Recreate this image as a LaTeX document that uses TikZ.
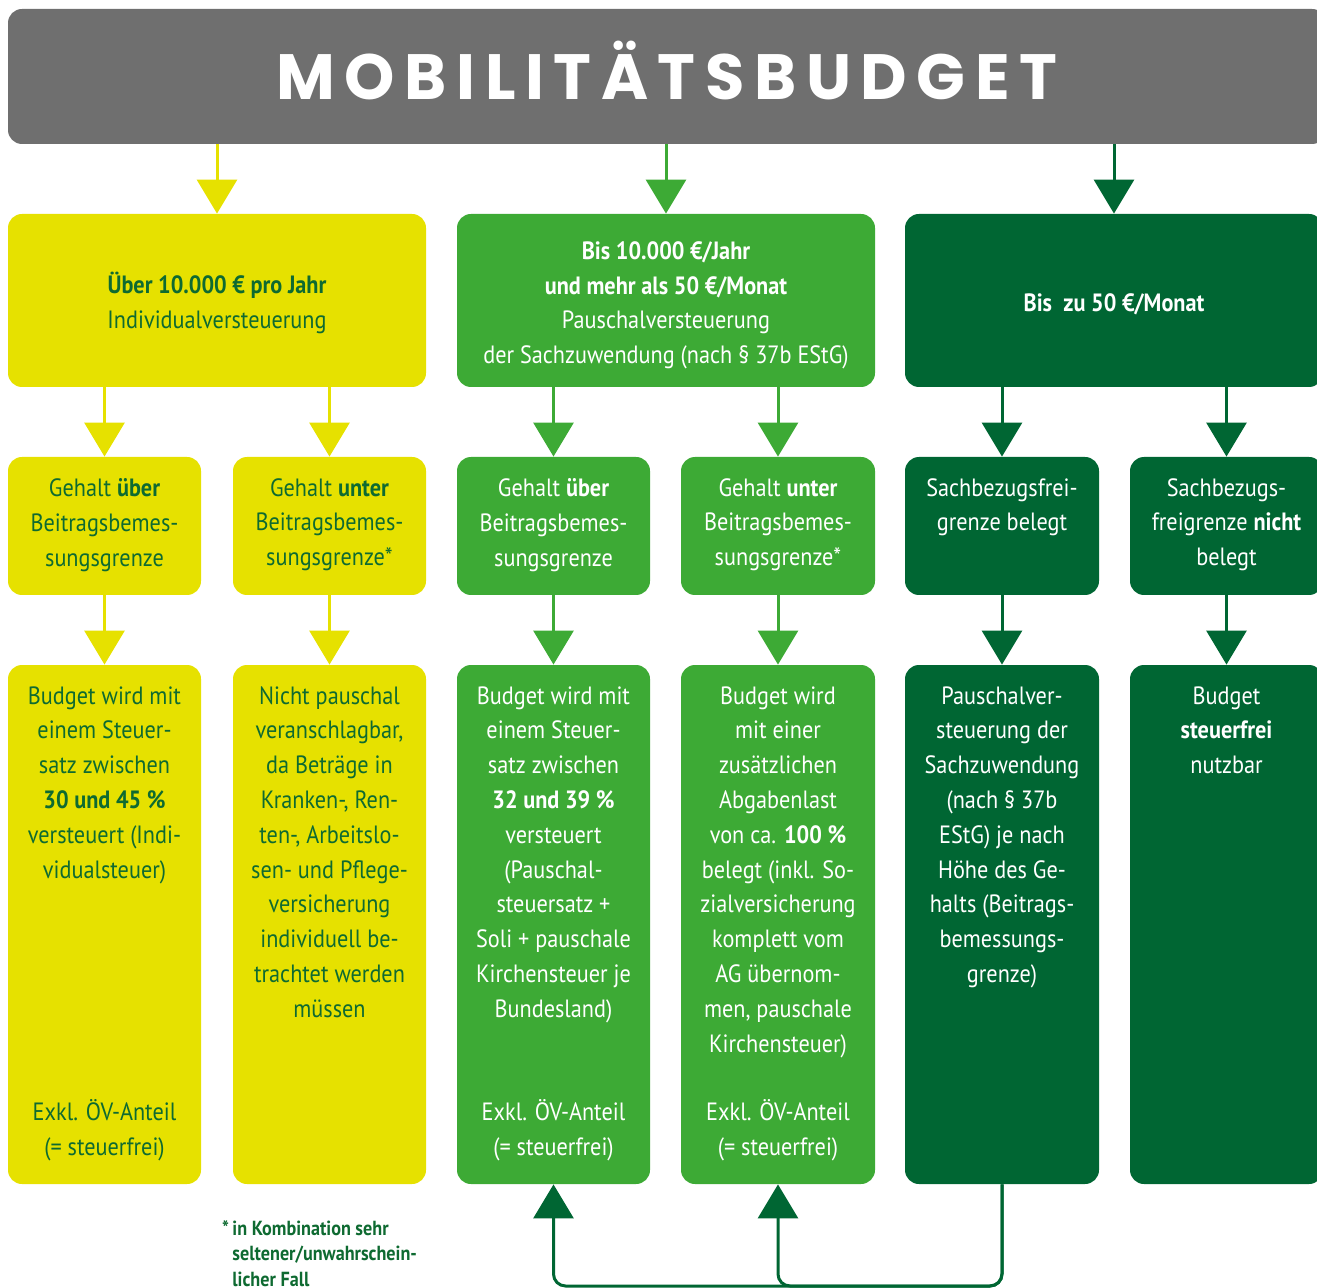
\documentclass[tikz,border=0pt]{standalone}
\usepackage{fontspec}
\setmainfont{PT Sans}[FakeStretch=0.89]
\newfontfamily\titlefont{Poppins}[LetterSpace=15]
\usetikzlibrary{arrows.meta}
\definecolor{cyellow}{HTML}{E6E100}
\definecolor{cmid}{HTML}{3DAA35}
\definecolor{cdark}{HTML}{006633}
\definecolor{cgray}{HTML}{6F6F6F}
\definecolor{ctext}{HTML}{0E6A31}
\newcommand\bx[6]{\node[#2, minimum width={(#5-#3)*0.5pt}, minimum height={(#6-#4)*0.5pt}] (#1) at ({(#3+#5)/2},{(#4+#6)/2}) {};}
\begin{document}
\begin{tikzpicture}[x=0.5pt,y=-0.5pt,
 box/.style={rounded corners=7pt, inner sep=0pt, draw=none},
 gbox/.style={box, fill=cgray},
 ybox/.style={box, fill=cyellow},
 mbox/.style={box, fill=cmid},
 dbox/.style={box, fill=cdark},
 txt/.style={anchor=north, inner sep=0pt, align=center, font=\fontsize{12.5}{17.4}\selectfont, execute at begin node=\rule{0pt}{12pt}},
 ytxt/.style={txt, text=ctext},
 wtxt/.style={txt, text=white},
 arr/.style={line width=1.5pt, -{Triangle[width=20pt,length=17pt]}},
 yarr/.style={arr, draw=cyellow, fill=cyellow},
 marr/.style={arr, draw=cmid, fill=cmid},
 darr/.style={arr, draw=cdark, fill=cdark},
]
\useasboundingbox (0,0) rectangle (1317,1288);
\clip (0,0) rectangle (1317,1288);
% header
\bx{H}{gbox}{8}{9}{1326}{144}
\node[anchor=base, inner sep=0pt, text=white, font=\titlefont\bfseries\fontsize{32}{36}\selectfont] (title) at (667,100) {MOBILITÄTSBUDGET};
% row 1
\bx{A}{ybox}{8}{214}{426}{387}
\bx{B}{mbox}{457}{214}{875}{387}
\bx{C}{dbox}{905}{214}{1323}{387}
% row 2
\bx{a2}{ybox}{8}{457}{201}{595}
\bx{b2}{ybox}{233}{457}{426}{595}
\bx{c2}{mbox}{457}{457}{650}{595}
\bx{d2}{mbox}{681}{457}{875}{595}
\bx{e2}{dbox}{905}{457}{1099}{595}
\bx{f2}{dbox}{1130}{457}{1323}{595}
% row 3
\bx{a3}{ybox}{8}{665}{201}{1184}
\bx{b3}{ybox}{233}{665}{426}{1184}
\bx{c3}{mbox}{457}{665}{650}{1184}
\bx{d3}{mbox}{681}{665}{875}{1184}
\bx{e3}{dbox}{905}{665}{1099}{1184}
\bx{f3}{dbox}{1130}{665}{1323}{1184}
% arrows header -> row 1
\draw[yarr] (A.north |- H.south) -- (A.north);
\draw[marr] (B.north |- H.south) -- (B.north);
\draw[darr] (C.north |- H.south) -- (C.north);
% row1 -> row2
\draw[yarr] (a2.north |- A.south) -- (a2.north);
\draw[yarr] (b2.north |- A.south) -- (b2.north);
\draw[marr] (c2.north |- B.south) -- (c2.north);
\draw[marr] (d2.north |- B.south) -- (d2.north);
\draw[darr] (e2.north |- C.south) -- (e2.north);
\draw[darr] (f2.north |- C.south) -- (f2.north);
% row2 -> row3
\draw[yarr] (a2.south) -- (a3.north);
\draw[yarr] (b2.south) -- (b3.north);
\draw[marr] (c2.south) -- (c3.north);
\draw[marr] (d2.south) -- (d3.north);
\draw[darr] (e2.south) -- (e3.north);
\draw[darr] (f2.south) -- (f3.north);
% bottom connectors
\coordinate (bot) at (0,1286);
\draw[darr, fill=none, rounded corners=6pt] (e3.south) -- (e3.south |- bot) -- (c3.south |- bot) -- (c3.south);
\draw[darr, fill=none, rounded corners=6pt] (e3.south) -- (e3.south |- bot) -- (d3.south |- bot) -- (d3.south);
% texts row 1
\node[ytxt] (tA) at (217,{296-24}) {\textbf{Über 10.000 € pro Jahr}\\Individualversteuerung};
\node[wtxt] (tB) at (666,{265-24}) {\textbf{Bis 10.000 €/Jahr}\\\textbf{und mehr als 50 €/Monat}\\Pauschalversteuerung\\der Sachzuwendung (nach § 37b EStG)};
\node[wtxt] (tC) at (1114,{311-24}) {\textbf{Bis\ \ zu 50 €/Monat}};
% texts row 2
\node[ytxt] (ta2) at (104.5,{502-24}) {Gehalt \textbf{über}\\Beitragsbemes-\\sungsgrenze};
\node[ytxt] (tb2) at (329.5,{502-24}) {Gehalt \textbf{unter}\\Beitragsbemes-\\sungsgrenze*};
\node[wtxt] (tc2) at (553.5,{502-24}) {Gehalt \textbf{über}\\Beitragsbemes-\\sungsgrenze};
\node[wtxt] (td2) at (778,{502-24}) {Gehalt \textbf{unter}\\Beitragsbemes-\\sungsgrenze*};
\node[wtxt] (te2) at (1002,{502-24}) {Sachbezugsfrei-\\grenze belegt};
\node[wtxt] (tf2) at (1226.5,{502-24}) {Sachbezugs-\\freigrenze \textbf{nicht}\\belegt};
% texts row 3
\node[ytxt] (ta3) at (104.5,{710-24}) {Budget wird mit\\einem Steuer-\\satz zwischen\\\textbf{30 und 45 \%}\\versteuert (Indi-\\vidualsteuer)};
\node[ytxt] (tb3) at (329.5,{710-24}) {Nicht pauschal\\veranschlagbar,\\da Beträge in\\Kranken-, Ren-\\ten-, Arbeitslo-\\sen- und Pflege-\\versicherung\\individuell be-\\trachtet werden\\müssen};
\node[wtxt] (tc3) at (553.5,{710-24}) {Budget wird mit\\einem Steuer-\\satz zwischen\\\textbf{32 und 39 \%}\\versteuert\\(Pauschal-\\steuersatz +\\Soli + pauschale\\Kirchensteuer je\\Bundesland)};
\node[wtxt] (td3) at (778,{710-24}) {Budget wird\\mit einer\\zusätzlichen\\Abgabenlast\\von ca. \textbf{100 \%}\\belegt (inkl. So-\\zialversicherung\\komplett vom\\AG übernom-\\men, pauschale\\Kirchensteuer)};
\node[wtxt] (te3) at (1002,{710-24}) {Pauschalver-\\steuerung der\\Sachzuwendung\\(nach § 37b\\EStG) je nach\\Höhe des Ge-\\halts (Beitrags-\\bemessungs-\\grenze)};
\node[wtxt] (tf3) at (1226.5,{710-24}) {Budget\\\textbf{steuerfrei}\\nutzbar};
% bottom texts
\node[ytxt] (xa3) at (104.5,{1123-24}) {Exkl. ÖV-Anteil\\(= steuerfrei)};
\node[wtxt] (xc3) at (553.5,{1123-24}) {Exkl. ÖV-Anteil\\(= steuerfrei)};
\node[wtxt] (xd3) at (778,{1123-24}) {Exkl. ÖV-Anteil\\(= steuerfrei)};
% footnote
\node[anchor=north west, inner sep=0pt, align=left, text=ctext, font=\bfseries\fontsize{10.2}{12.8}\selectfont, execute at begin node=\rule{0pt}{9pt}] (fn) at (232,{1238-18}) {\llap{*\,}in Kombination sehr\\seltener/unwahrschein-\\licher Fall};
\end{tikzpicture}
\end{document}
